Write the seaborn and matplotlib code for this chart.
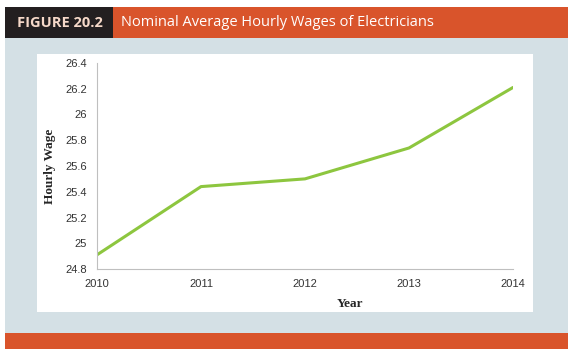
import matplotlib
matplotlib.use("Agg")
import matplotlib.pyplot as plt
import seaborn as sns
import pandas as pd
from matplotlib.patches import Rectangle

# Données
years = [2010, 2011, 2012, 2013, 2014]
wages = [24.91, 25.44, 25.50, 25.74, 26.21]
y_ticks = [24.8, 25, 25.2, 25.4, 25.6, 25.8, 26, 26.2, 26.4]
y_tick_labels = ["24.8", "25", "25.2", "25.4", "25.6", "25.8", "26", "26.2", "26.4"]

df = pd.DataFrame({"Year": years, "Hourly Wage": wages})

sns.set_theme(style="white")
plt.rcParams["font.family"] = ["DejaVu Sans"]

W, H = 574, 352
fig = plt.figure(figsize=(W / 100, H / 100), dpi=100)
fig.patch.set_facecolor("white")


def px_rect(x0, y0, x1, y1, color):
    # rectangle en pixels (origine en haut à gauche), dessiné sous les axes
    fig.patches.append(Rectangle((x0 / W, 1 - y1 / H), (x1 - x0) / W, (y1 - y0) / H,
                                 transform=fig.transFigure, facecolor=color,
                                 edgecolor="none", zorder=-10))


# fond et bandeaux
px_rect(5, 38, 568, 334, "#D4E0E5")
px_rect(5, 7, 113, 38, "#231F20")
px_rect(113, 7, 568, 38, "#D9542B")
px_rect(5, 333, 568, 349, "#D9542B")
px_rect(37, 54, 533, 312, "white")

fig.text(17 / W, 1 - 23 / H, "FIGURE 20.2", color="#F6D9C9", fontsize=10.5,
         fontweight="bold", family=["Open Sans", "DejaVu Sans"], va="center", ha="left")
fig.text(121 / W, 1 - 23 / H, "Nominal Average Hourly Wages of Electricians", color="white",
         fontsize=10.5, family=["Open Sans", "DejaVu Sans"], va="center", ha="left")

ax = fig.add_axes([97 / W, 1 - 269 / H, (513 - 97) / W, (269 - 63) / H])
ax.set_facecolor("none")
sns.lineplot(data=df, x="Year", y="Hourly Wage", ax=ax, color="#8DC63F", linewidth=2.2)

ax.set_xlim(2010, 2014)
ax.set_ylim(24.8, 26.4)
ax.set_xticks(years)
ax.set_xticklabels([str(y) for y in years])
ax.set_yticks(y_ticks)
ax.set_yticklabels(y_tick_labels)

for side in ["top", "right"]:
    ax.spines[side].set_visible(False)
for side in ["left", "bottom"]:
    ax.spines[side].set_color("#BFBFBF")
    ax.spines[side].set_linewidth(0.8)

ax.tick_params(axis="both", direction="out", length=3, width=0.8, color="#BFBFBF",
               labelsize=8, labelcolor="#333333", pad=4)
for lab in ax.get_xticklabels() + ax.get_yticklabels():
    lab.set_family(["Liberation Sans", "DejaVu Sans"])

ax.set_xlabel("Year", fontsize=9.5, fontweight="bold", family=["Liberation Serif"])
ax.set_ylabel("Hourly Wage", fontsize=9.5, fontweight="bold", family=["Liberation Serif"], labelpad=7)
# le titre "Year" est décalé à droite dans l'original
ax.xaxis.set_label_coords(0.608, -0.14)

fig.savefig("out.png", dpi=100)
